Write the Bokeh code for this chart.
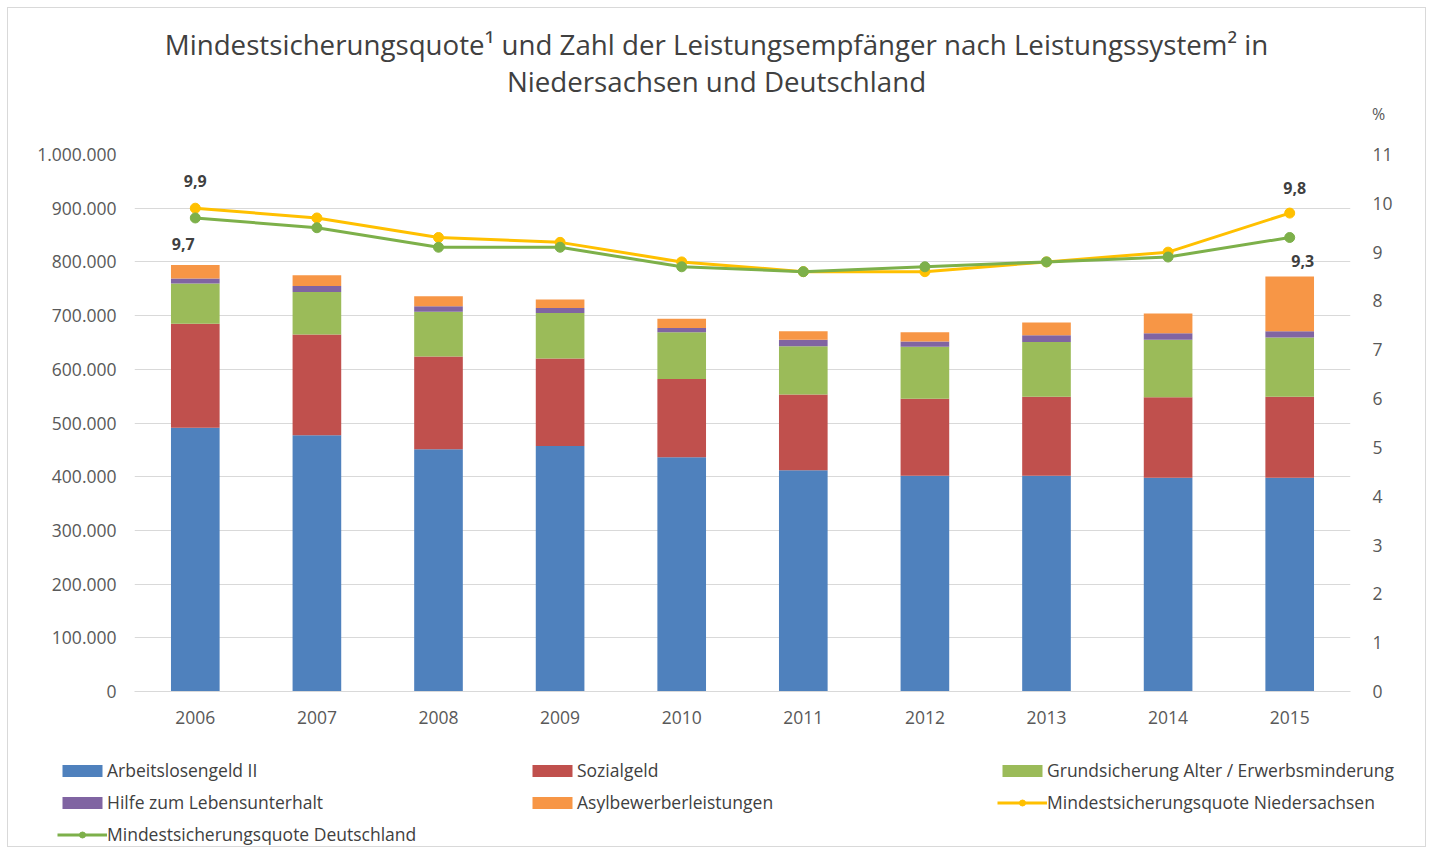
from bokeh.plotting import figure
from bokeh.models import (ColumnDataSource, Range1d, LinearAxis, FixedTicker, Label,
                          LabelSet, Legend, LegendItem)
from bokeh.embed import file_html
from bokeh.resources import INLINE
from bokeh.core.properties import value

# ---------------- data ----------------
years = ["2006", "2007", "2008", "2009", "2010", "2011", "2012", "2013", "2014", "2015"]
arbeitslosengeld = [491000, 477000, 451000, 457000, 436000, 412000, 402000, 402000, 398000, 398000]
sozialgeld = [194000, 188000, 173000, 163000, 146000, 141000, 143000, 147000, 150000, 151000]
grundsicherung = [75000, 79000, 83000, 85000, 87000, 90000, 97000, 102000, 107000, 110000]
hilfe = [9000, 11000, 10500, 9000, 8000, 12000, 10000, 12500, 12000, 12000]
asyl = [25000, 20000, 18500, 16000, 17000, 16000, 17000, 23500, 37000, 102000]
quote_nds = [9.9, 9.7, 9.3, 9.2, 8.8, 8.6, 8.6, 8.8, 9.0, 9.8]
quote_de = [9.7, 9.5, 9.1, 9.1, 8.7, 8.6, 8.7, 8.8, 8.9, 9.3]
left_ticks = [0, 100000, 200000, 300000, 400000, 500000, 600000, 700000, 800000, 900000, 1000000]
left_tick_labels = ["0", "100.000", "200.000", "300.000", "400.000", "500.000", "600.000",
                    "700.000", "800.000", "900.000", "1.000.000"]
right_ticks = [0, 1, 2, 3, 4, 5, 6, 7, 8, 9, 10, 11]
series_names = ["Arbeitslosengeld II", "Sozialgeld", "Grundsicherung Alter / Erwerbsminderung",
                "Hilfe zum Lebensunterhalt", "Asylbewerberleistungen"]
line_names = ["Mindestsicherungsquote Niedersachsen", "Mindestsicherungsquote Deutschland"]
title_lines = ["Mindestsicherungsquote\u00b9 und Zahl der Leistungsempf\u00e4nger nach Leistungssystem\u00b2 in",
               "Niedersachsen und Deutschland"]
unit_label = "%"

FONT = "Open Sans"
TXT = "#404040"
TICK = "#595959"
GRID = "#d9d9d9"
BORDER = "1px solid #d9d9d9"
bar_colors = ["#4F81BD", "#C0504D", "#9BBB59", "#8064A2", "#F79646"]
nds_color = "#FFC000"
de_color = "#7DB04A"
W = 1419

keys = ["alg", "soz", "grund", "hilfe", "asyl"]
src = ColumnDataSource(dict(year=years, alg=arbeitslosengeld, soz=sozialgeld, grund=grundsicherung,
                            hilfe=hilfe, asyl=asyl, nds=quote_nds, de=quote_de))


def draw_series(fig, y_range_name):
    bars = fig.vbar_stack(keys, x="year", width=0.4, source=src, color=bar_colors, line_color=None)
    kw = {} if y_range_name is None else {"y_range_name": y_range_name}
    r_nds = fig.line("year", "nds", source=src, color=nds_color, line_width=3, **kw)
    c_nds = fig.scatter("year", "nds", source=src, color=nds_color, size=10, **kw)
    r_de = fig.line("year", "de", source=src, color=de_color, line_width=3, **kw)
    c_de = fig.scatter("year", "de", source=src, color=de_color, size=10, **kw)
    return bars, (r_nds, c_nds), (r_de, c_de)


def blank_strip(height):
    f = figure(width=W, height=height, x_range=Range1d(0, W), y_range=Range1d(0, height),
               output_backend="svg", toolbar_location=None,
               min_border_left=0, min_border_right=0, min_border_top=0, min_border_bottom=0)
    f.axis.visible = False
    f.grid.visible = False
    f.outline_line_color = None
    return f


# ---------------- title strip ----------------
TH = 120
pt = blank_strip(TH)
pt.styles = {"border-top": BORDER, "border-left": BORDER, "border-right": BORDER,
             "margin-left": "7px", "margin-top": "7px"}
for txt, yy in zip(title_lines, [TH - 35, TH - 72]):
    pt.add_layout(Label(x=708, y=yy, text=txt, text_align="center", text_baseline="middle",
                        text_font=FONT, text_font_size="27.7px", text_color=TXT))
pt.add_layout(Label(x=1370, y=TH - 105, text=unit_label, text_align="center",
                    text_baseline="middle", text_font=FONT, text_font_size="16px",
                    text_color=TICK))

# ---------------- main chart ----------------
p = figure(width=W, height=620, x_range=years, y_range=Range1d(0, 1000000),
           output_backend="svg", toolbar_location=None,
           min_border_left=126, min_border_right=77, min_border_top=27, min_border_bottom=56)
p.extra_y_ranges = {"pct": Range1d(0, 11)}
p.outline_line_color = None
p.styles = {"border-left": BORDER, "border-right": BORDER, "margin-left": "7px"}
draw_series(p, "pct")

ya = p.yaxis[0]
ya.ticker = FixedTicker(ticks=left_ticks)
ya.major_label_overrides = {t: l for t, l in zip(left_ticks, left_tick_labels)}
rax = LinearAxis(y_range_name="pct", ticker=FixedTicker(ticks=right_ticks))
p.add_layout(rax, "right")
for ax in [ya, rax, p.xaxis[0]]:
    ax.axis_line_color = None
    ax.major_tick_line_color = None
    ax.minor_tick_line_color = None
    ax.major_label_text_font = FONT
    ax.major_label_text_font_size = "17.5px"
    ax.major_label_text_color = TICK
ya.major_label_standoff = 12
rax.major_label_standoff = 16
p.xaxis[0].axis_line_color = GRID
p.xaxis[0].major_label_standoff = 13

p.xgrid.grid_line_color = None
p.ygrid.grid_line_color = GRID
p.ygrid.grid_line_width = 1

# data labels
lab_vals = [quote_nds[0], quote_de[0], quote_nds[-1], quote_de[-1]]
lab_src = ColumnDataSource(dict(
    x=[years[0], years[0], years[-1], years[-1]],
    y=lab_vals,
    t=[str(v).replace(".", ",") for v in lab_vals],
    xo=[0, -12, 5, 13],
    yo=[27, -26, 25, -24],
))
p.add_layout(LabelSet(x="x", y="y", text="t", source=lab_src, y_range_name="pct",
                      x_offset="xo", y_offset="yo", text_align="center", text_baseline="middle",
                      text_font=value(FONT), text_font_size="16px", text_color=TXT,
                      text_font_style="bold"))

# ---------------- legend strip ----------------
pl = figure(width=W, height=100, x_range=years, y_range=Range1d(-1.0e7, -0.9e7),
            output_backend="svg", toolbar_location=None,
            min_border_left=0, min_border_right=0, min_border_top=0, min_border_bottom=0)
pl.axis.visible = False
pl.grid.visible = False
pl.outline_line_color = None
pl.styles = {"border-bottom": BORDER, "border-left": BORDER, "border-right": BORDER,
             "margin-left": "7px"}
lbars, lnds, lde = draw_series(pl, None)
for r in list(lbars) + list(lnds) + list(lde):
    r.visible = False

items = [LegendItem(label=series_names[0], renderers=[lbars[0]]),
         LegendItem(label=series_names[1], renderers=[lbars[1]]),
         LegendItem(label=series_names[2], renderers=[lbars[2]]),
         LegendItem(label=series_names[3], renderers=[lbars[3]]),
         LegendItem(label=series_names[4], renderers=[lbars[4]]),
         LegendItem(label=line_names[0], renderers=list(lnds)),
         LegendItem(label=line_names[1], renderers=list(lde))]
lg = Legend(items=items, location=(49, 1), orientation="horizontal", ncols=3,
            label_text_font=FONT, label_text_font_size="17.5px", label_text_color=TXT,
            glyph_width=50, glyph_height=15, label_height=20, label_width=412, spacing=8,
            label_standoff=-2, padding=0, margin=0, border_line_color=None,
            background_fill_alpha=0, click_policy="none", inactive_fill_alpha=0)
pl.add_layout(lg)

open("out.html", "w").write(file_html([pt, p, pl], INLINE))
